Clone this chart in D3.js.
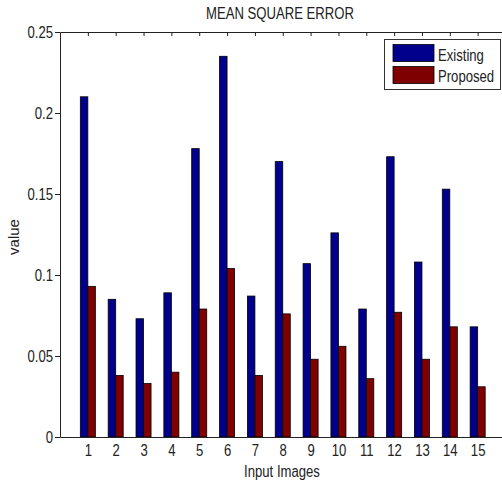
<!DOCTYPE html>
<html>
<head>
<meta charset="utf-8">
<script src="https://cdn.jsdelivr.net/npm/d3@7"></script>
<style>
  html, body { margin: 0; padding: 0; background: #fff; }
  svg { display: block; }
  text { font-family: "Liberation Sans", Arial, sans-serif; fill: #222; }
</style>
</head>
<body>
<svg id="chart" width="502" height="482"></svg>
<script>
const categories = ["1","2","3","4","5","6","7","8","9","10","11","12","13","14","15"];
const existing = [0.210, 0.085, 0.073, 0.089, 0.178, 0.235, 0.087, 0.170, 0.107, 0.126, 0.079, 0.173, 0.108, 0.153, 0.068];
const proposed = [0.093, 0.038, 0.033, 0.040, 0.079, 0.104, 0.038, 0.076, 0.048, 0.056, 0.036, 0.077, 0.048, 0.068, 0.031];
const yTicks = [0, 0.05, 0.1, 0.15, 0.2, 0.25];
const yTickLabels = ["0", "0.05", "0.1", "0.15", "0.2", "0.25"];
const seriesNames = ["Existing", "Proposed"];
const seriesColors = ["#00008C", "#7F0000"];

const svg = d3.select("#chart");
const L = 60, T = 32, B = 437, R = 505.5;
const SX = 0.82;

function narrow(sel) {
  sel.each(function () {
    const t = d3.select(this);
    const x0 = +(t.attr("x") || 0);
    t.attr("x", x0 / SX).attr("transform", `scale(${SX},1)`);
  });
}

const x = d3.scaleLinear().domain([0, 16]).range([L, R]);
const y = d3.scaleLinear().domain([0, 0.25]).range([B, T]);
const bw = 0.27;

// bars
const g = svg.append("g");
[existing, proposed].forEach((vals, s) => {
  g.selectAll(null).data(vals).enter().append("rect")
    .attr("x", (d, i) => s === 0 ? x(i + 1 - bw) : x(i + 1))
    .attr("y", d => y(d))
    .attr("width", x(bw) - x(0))
    .attr("height", d => y(0) - y(d))
    .attr("fill", seriesColors[s])
    .attr("stroke", "#000")
    .attr("stroke-width", 0.8);
});

// axes
const yAxis = d3.axisLeft(y).tickValues(yTicks)
  .tickFormat((d, i) => yTickLabels[i]).tickSizeInner(5).tickSizeOuter(0).tickPadding(2);
const ya = svg.append("g").attr("transform", `translate(${L},0)`).call(yAxis);
ya.selectAll("text").style("font-size", "16px").attr("dy", "0.36em").call(narrow);

const xAxis = d3.axisBottom(x).tickValues(categories.map((c, i) => i + 1))
  .tickFormat((d, i) => categories[i]).tickSize(0).tickSizeOuter(0).tickPadding(8);
const xa = svg.append("g").attr("transform", `translate(0,${B})`).call(xAxis);
xa.selectAll("text").style("font-size", "16px").call(narrow);

const xTop = d3.axisBottom(x).tickValues(categories.map((c, i) => i + 1))
  .tickFormat("").tickSizeInner(4).tickSizeOuter(0);
svg.append("g").attr("transform", `translate(0,${T})`).call(xTop);

svg.selectAll(".domain, .tick line").attr("stroke", "#222");

// title & labels
svg.append("text").attr("x", 280).attr("y", 19).attr("text-anchor", "middle")
  .style("font-size", "16px").text("MEAN SQUARE ERROR").call(narrow);
svg.append("text").attr("x", 282).attr("y", 477).attr("text-anchor", "middle")
  .style("font-size", "16px").text("Input Images").call(narrow);
svg.append("text").attr("transform", "translate(19,237) rotate(-90)")
  .attr("text-anchor", "middle")
  .style("font-size", "15px").text("value");

// legend
const lg = svg.append("g");
lg.append("rect").attr("x", 384.5).attr("y", 39.5).attr("width", 116).attr("height", 50)
  .attr("fill", "#fff").attr("stroke", "#333").attr("stroke-width", 1);
seriesNames.forEach((n, i) => {
  lg.append("rect").attr("x", 393).attr("y", 44.5 + i * 22).attr("width", 41).attr("height", 17)
    .attr("fill", seriesColors[i]).attr("stroke", "#000").attr("stroke-width", 0.8);
  lg.append("text").attr("x", 438).attr("y", 61 + i * 21).style("font-size", "16px").text(n).call(narrow);
});
</script>
</body>
</html>
